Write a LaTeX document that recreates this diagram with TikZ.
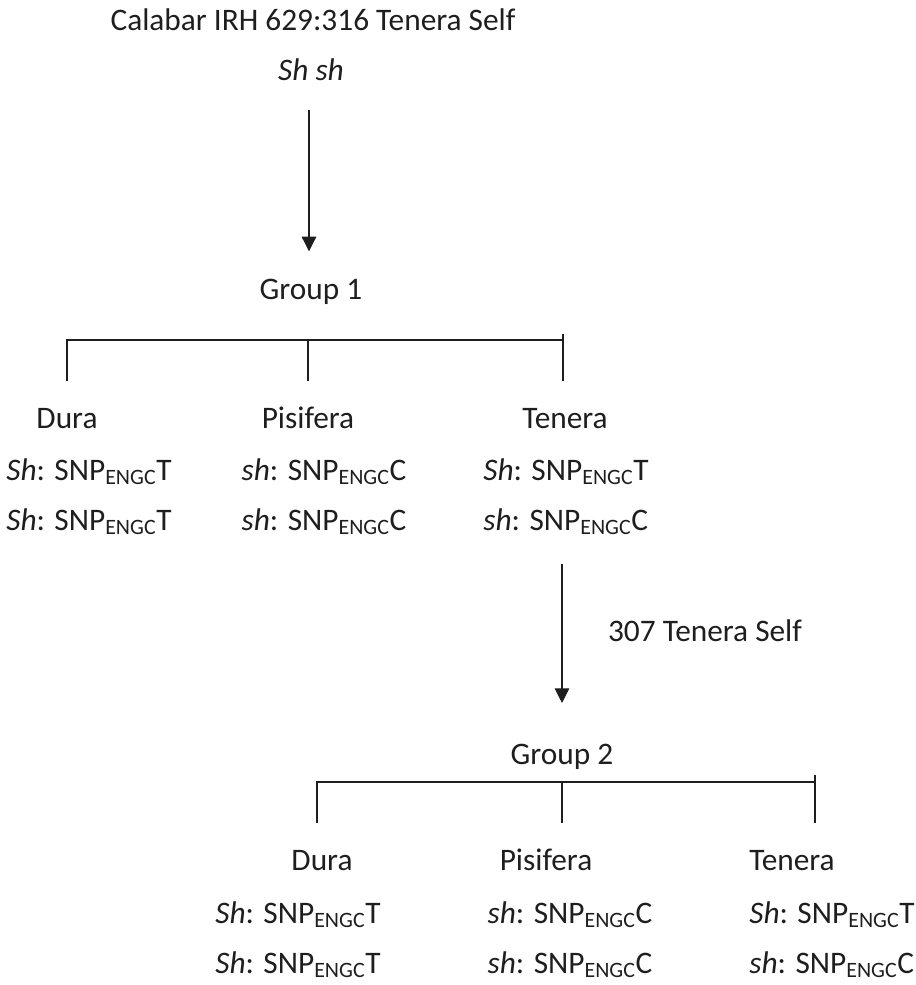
\documentclass[tikz,border=0pt]{standalone}
\usepackage{fontspec}
\setmainfont{Carlito}
\usepackage{tikz}
\usetikzlibrary{arrows.meta}

\definecolor{InkGray}{RGB}{30,30,30}
\newcommand{\snp}[2]{\textit{#1}: SNP\textsubscript{ENGC}#2}

\begin{document}
\begin{tikzpicture}[x=0.75pt, y=-0.75pt,
      every node/.style={font=\fontsize{23.5}{37.5}\selectfont, text=InkGray, align=center},
      lbl/.style={anchor=base},
      gene/.style={anchor=base, align=left},
      tree/.style={draw=InkGray, line width=0.8pt},
      link/.style={draw=InkGray, line width=0.8pt, -{Triangle[length=11pt, width=11pt]}}
  ]
    \useasboundingbox (0,0) rectangle (916,985);
    % first cross
    \node[lbl] (cross1) at (313,30) {Calabar IRH 629:316 Tenera Self};
    \node[lbl] (par1) at (311,80) {\textit{Sh sh}};
    \node[lbl] (grp1) at (311,299) {Group 1};
    \node[lbl] (dura1) at (67,428) {Dura};
    \node[lbl] (pisi1) at (308,428) {Pisifera};
    \node[lbl] (ten1) at (565,428) {Tenera};
    \node[gene] (dg1) at (89,530) {\snp{Sh}{T}\\\snp{Sh}{T}};
    \node[gene] (pg1) at (324,530) {\snp{sh}{C}\\\snp{sh}{C}};
    \node[gene] (tg1) at (566,530) {\snp{Sh}{T}\\\snp{sh}{C}};
    % second cross
    \node[lbl] (cross2) at (705,641) {307 Tenera Self};
    \node[lbl] (grp2) at (562,764) {Group 2};
    \node[lbl] (dura2) at (322,870) {Dura};
    \node[lbl] (pisi2) at (546,870) {Pisifera};
    \node[lbl] (ten2) at (792,870) {Tenera};
    \node[gene] (dg2) at (298,973) {\snp{Sh}{T}\\\snp{Sh}{T}};
    \node[gene] (pg2) at (570,973) {\snp{sh}{C}\\\snp{sh}{C}};
    \node[gene] (tg2) at (832,973) {\snp{Sh}{T}\\\snp{sh}{C}};

    \draw[link, shorten <=19pt, shorten >=17pt] (par1.south -| 309,0) -- (grp1.north -| 309,0);
    \draw[link, shorten <=18pt, shorten >=27pt] (grp2 |- tg1.south) -- (grp2.north);

    % brackets
    \coordinate (bar1) at (308,340);
    \coordinate (foot1) at (0,381);
    \coordinate (tip1) at (563,334);
    \draw[tree] (dura1 |- foot1) |- (bar1) -- (tip1 |- bar1);
    \draw[tree] (bar1) -- (pisi1 |- foot1);
    \draw[tree] (tip1) -- (tip1 |- foot1);

    \coordinate (bar2w) at (317,782);
    \coordinate (tip2) at (815,775);
    \coordinate (foot2) at (0,823);
    \draw[tree] (bar2w |- foot2) -- (bar2w) -- (tip2 |- bar2w);
    \draw[tree] (grp2 |- bar2w) -- (grp2 |- foot2);
    \draw[tree] (tip2) -- (tip2 |- foot2);
  \end{tikzpicture}
\end{document}
